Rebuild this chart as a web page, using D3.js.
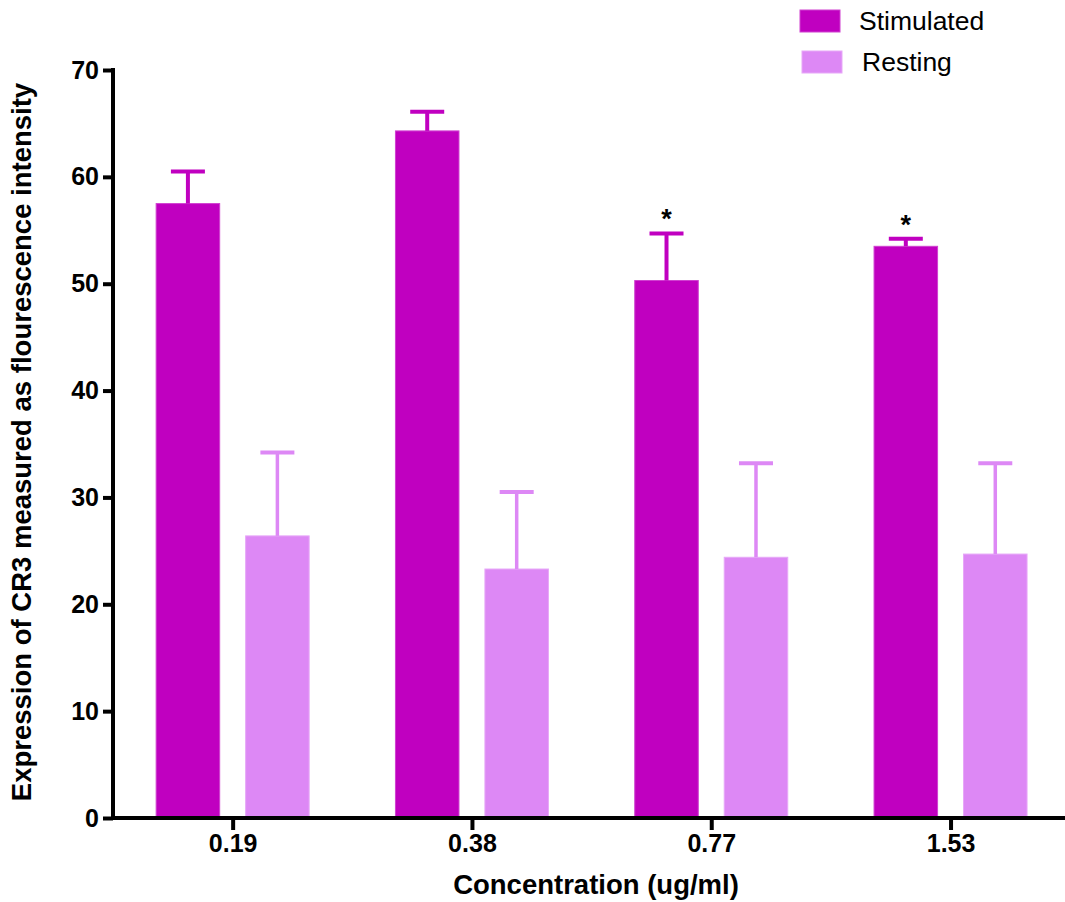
<!DOCTYPE html>
<html>
<head>
<meta charset="utf-8">
<script src="https://cdn.jsdelivr.net/npm/d3@7"></script>
<style>
  body { margin: 0; background: #fff; }
  text { font-family: "Liberation Sans", Arial, sans-serif; }
</style>
</head>
<body>
<div id="chart"></div>
<script>
const categories = ['0.19', '0.38', '0.77', '1.53'];
const seriesNames = ['Stimulated', 'Resting'];
const stimulated = [57.5, 64.3, 50.3, 53.5];
const stimulatedErr = [3.0, 1.8, 4.4, 0.7];
const resting = [26.4, 23.3, 24.4, 24.7];
const restingErr = [7.8, 7.2, 8.8, 8.5];
const significant = [false, false, true, true];
const yTicks = [0, 10, 20, 30, 40, 50, 60, 70];

const colors = { Stimulated: '#c000c0', Resting: '#dd88f5' };
const edges = { Stimulated: '#d040d0', Resting: '#e7a8f8' };

const width = 1065,
  height = 902,
  plotLeft = 113,
  plotTop = 70,
  plotBottom = 818;

const rows = [];
categories.forEach((c, i) => {
  rows.push({ cat: c, series: 'Stimulated', value: stimulated[i], err: stimulatedErr[i], star: significant[i] });
  rows.push({ cat: c, series: 'Resting', value: resting[i], err: restingErr[i], star: false });
});

const x = d3.scalePoint()
    .domain(categories)
    .range([plotLeft, plotLeft + 239.3 * 4])
    .padding(0.5);

const inner = d3.scaleBand()
    .domain(seriesNames)
    .range([-76.5, 76.5])
    .paddingInner(0.29);

const y = d3.scaleLinear()
    .domain([0, 70])
    .range([plotBottom, plotTop]);

const svg = d3.select('#chart').append('svg')
    .attr('width', width)
    .attr('height', height);

// bars
const bars = svg.append('g');
bars.selectAll('rect')
    .data(rows)
  .enter().append('rect')
    .attr('x', (d) => x(d.cat) + inner(d.series))
    .attr('y', (d) => y(d.value))
    .attr('width', inner.bandwidth())
    .attr('height', (d) => plotBottom - y(d.value))
    .attr('fill', (d) => colors[d.series])
    .attr('stroke', (d) => edges[d.series])
    .attr('stroke-width', 1);

// error bars (upper only)
const errs = svg.append('g');
rows.forEach((d) => {
  const cx = x(d.cat) + inner(d.series) + inner.bandwidth() / 2;
  const sw = d.series === 'Stimulated' ? 4 : 3.5;
  errs.append('line')
      .attr('x1', cx).attr('x2', cx)
      .attr('y1', y(d.value)).attr('y2', y(d.value + d.err))
      .attr('stroke', colors[d.series])
      .attr('stroke-width', sw);
  errs.append('line')
      .attr('x1', cx - 17).attr('x2', cx + 17)
      .attr('y1', y(d.value + d.err)).attr('y2', y(d.value + d.err))
      .attr('stroke', colors[d.series])
      .attr('stroke-width', 4);
  if (d.star) {
    errs.append('text')
        .attr('x', cx)
        .attr('y', y(d.value + d.err) - 5)
        .attr('text-anchor', 'middle')
        .attr('font-size', 27)
        .attr('font-weight', 'bold')
        .text('*');
  }
});

// axes
const yAxis = d3.axisLeft(y)
    .tickValues(yTicks)
    .tickSize(10)
    .tickPadding(4)
    .tickSizeOuter(0);

const gy = svg.append('g')
    .attr('transform', `translate(${plotLeft},0)`)
    .call(yAxis);
gy.select('.domain').attr('stroke-width', 4).attr('d', `M0,${plotBottom + 2}V${plotTop - 2}`);
gy.selectAll('.tick line').attr('stroke-width', 4);
gy.selectAll('.tick text')
    .attr('font-size', 25)
    .attr('font-weight', 'bold')
    .attr('font-family', '"Liberation Sans", Arial, sans-serif')
    .attr('fill', '#000');

const xAxis = d3.axisBottom(x)
    .tickSize(12)
    .tickPadding(4)
    .tickSizeOuter(0);

const gx = svg.append('g')
    .attr('transform', `translate(0,${plotBottom})`)
    .call(xAxis);
gx.select('.domain').attr('stroke-width', 4).attr('d', `M${plotLeft - 2},0H${width}`);
gx.selectAll('.tick line').attr('stroke-width', 4);
gx.selectAll('.tick text')
    .attr('font-size', 25)
    .attr('font-weight', 'bold')
    .attr('font-family', '"Liberation Sans", Arial, sans-serif')
    .attr('fill', '#000');

// axis titles
svg.append('text')
    .attr('x', 596)
    .attr('y', 894)
    .attr('text-anchor', 'middle')
    .attr('font-size', 27.5)
    .attr('font-weight', 'bold')
    .text('Concentration (ug/ml)');

svg.append('text')
    .attr('transform', 'translate(31,442) rotate(-90)')
    .attr('text-anchor', 'middle')
    .attr('font-size', 27.5)
    .attr('font-weight', 'bold')
    .text('Expression of CR3 measured as flourescence intensity');

// legend
const legend = svg.append('g');
seriesNames.forEach((s, i) => {
  legend.append('rect')
      .attr('x', 800 + i * 2)
      .attr('y', 10 + i * 41)
      .attr('width', 40)
      .attr('height', 22)
      .attr('fill', colors[s])
      .attr('stroke', edges[s]);
  legend.append('text')
      .attr('x', 859 + i * 3)
      .attr('y', 30 + i * 41)
      .attr('font-size', 26.5)
      .text(s);
});
</script>
</body>
</html>
